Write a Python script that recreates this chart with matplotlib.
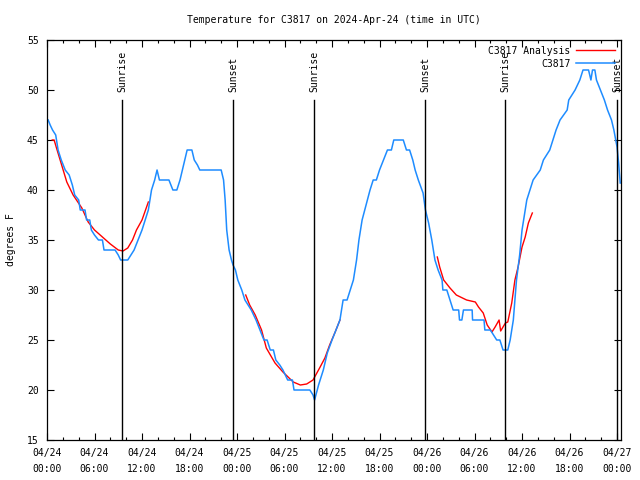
import numpy as np
import pandas as pd
import matplotlib
matplotlib.use('Agg')
import matplotlib.pyplot as plt
import matplotlib.dates as mdates

# Observed temperature (hours after 2024-04-24 00:00 UTC, deg F)
obs_hours = [0.15, 0.4, 0.7, 1.1, 1.4, 1.8, 2.3, 2.8, 3.2, 3.5, 4.0, 4.2, 4.8, 5.0, 5.4, 5.6,
             6.0, 6.5, 7.0, 7.2, 8.6, 9.0, 9.3, 10.2, 10.6, 11.0, 11.5, 12.0, 12.4, 12.8,
             13.2, 13.6, 13.9, 14.2, 15.4, 15.9, 16.4, 16.8, 17.1, 17.4, 17.7, 18.3, 18.6,
             19.0, 19.3, 22.0, 22.3, 22.5, 22.7, 23.0, 23.3, 23.5, 23.8, 24.1, 24.6, 25.0,
             25.4, 25.8, 26.4, 26.9, 27.4, 27.8, 28.2, 28.6, 28.9, 29.4, 29.8, 30.4, 31.0,
             31.2, 33.2, 33.6, 33.8, 34.3, 34.9, 35.4, 36.0, 36.5, 37.0, 37.4, 37.9, 38.3,
             38.7, 39.1, 39.4, 39.8, 40.3, 40.8, 41.2, 41.6, 42.0, 42.5, 43.0, 43.5, 43.8,
             45.0, 45.4, 45.8, 46.2, 46.5, 46.9, 47.5, 47.8, 48.2, 48.6, 49.0, 49.4, 49.9,
             50.0, 50.5, 50.9, 51.3, 52.0, 52.1, 52.4, 52.6, 53.7, 53.75, 55.2, 55.3, 56.0,
             56.4, 56.8, 57.2, 57.6, 58.2, 58.5, 58.9, 59.1, 59.3, 59.7, 60.0, 60.4, 60.6,
             61.0, 61.4, 62.3, 62.7, 63.5, 63.9, 64.3, 64.8, 65.7, 65.9, 66.7, 67.3, 67.7,
             68.4, 68.7, 68.9, 69.2, 69.4, 69.9, 70.4, 70.8, 71.3, 71.6, 72.0, 72.2, 72.4]
obs_temp = [47, 46.5, 46, 45.5, 44, 43, 42, 41.5, 40.5, 39.5, 39, 38, 38, 37, 37, 36,
            35.5, 35, 35, 34, 34, 33.5, 33, 33, 33.5, 34, 35, 36, 37, 38,
            40, 41, 42, 41, 41, 40, 40, 41, 42, 43, 44, 44, 43,
            42.5, 42, 42, 41, 39, 36, 34, 33, 32.5, 32, 31, 30, 29,
            28.5, 28, 27, 26, 25, 25, 24, 24, 23, 22.5, 22, 21, 21,
            20, 20, 19.5, 19, 20.5, 22, 23.7, 25, 26, 27, 29, 29, 30,
            31, 33, 35, 37, 38.5, 40, 41, 41, 42, 43, 44, 44, 45,
            45, 44, 44, 43, 42, 41, 39.7, 38, 36.7, 35, 33, 32, 31,
            30, 30, 29, 28, 28, 27, 27, 28, 28, 27, 27, 26, 26,
            25.5, 25, 25, 24, 24, 25, 27, 29, 31, 33.5, 36, 38, 39,
            40, 41, 42, 43, 44, 45, 46, 47, 48, 49, 50, 51, 52,
            52, 51, 52, 52, 51, 50, 49, 48, 47, 46, 44.3, 42.7, 40.7]

# Analysis (gaps as NaN)
ana_hours = [0.66, 0.9, 1.2, 1.85, 2.5, 3.3, 4.4, 5.2, 6.0, 7.0, 8.0, 9.0, 9.6, 10.2, 10.8,
             11.3, 12.0, 12.8, 13.0,
             25.1, 25.6, 26.3, 27.1, 27.7, 28.8, 29.8, 31.1, 32.0, 32.8, 33.6, 34.5, 35.1,
             35.7, 36.4, 37.0, 37.2,
             49.3, 49.6, 50.1, 50.9, 51.7, 53.0, 54.1, 54.5, 55.1, 55.6, 56.2, 56.6, 57.1,
             57.3, 57.9, 58.2, 58.7, 59.1, 59.5, 60.0, 60.4, 60.8, 61.3]
ana_temp = [45, 45, 44.2, 42.5, 40.8, 39.5, 38.2, 36.8, 36, 35.3, 34.6, 34, 33.9, 34.2, 35,
            36, 37, 38.8, np.nan,
            29.5, 28.5, 27.5, 26, 24.2, 22.7, 21.8, 20.8, 20.5, 20.6, 21, 22.3, 23.2,
            24.5, 25.8, 27, np.nan,
            33.3, 32.3, 31, 30.2, 29.5, 29, 28.8, 28.3, 27.7, 26.5, 25.8, 26.3, 27,
            25.9, 26.7, 26.8, 28.7, 31, 32.3, 34.3, 35.3, 36.7, 37.7]

sunrise_hours = [9.51, 33.76, 57.9]
sunset_hours = [23.53, 47.78, 72.02]

start = pd.Timestamp('2024-04-24 00:00')


def to_time(h):
    return start + pd.to_timedelta(np.asarray(h, dtype=float), unit='h')


plt.rcParams['font.family'] = 'DejaVu Sans Mono'
plt.rcParams['font.size'] = 7

fig = plt.figure(figsize=(6.4, 4.8), dpi=100)
ax = fig.add_axes([47 / 640, 40 / 480, 574 / 640, 400 / 480])

ax.plot(to_time(ana_hours), ana_temp, color='#ff0000', lw=1.0, label='C3817 Analysis')
ax.plot(to_time(obs_hours), obs_temp, color='#1e8cff', lw=1.1, label='C3817')

for h in sunrise_hours + sunset_hours:
    t = to_time([h])[0]
    ax.plot([t, t], [15, 49], color='black', lw=1.0)
for h, name in [(x, 'Sunrise') for x in sunrise_hours] + [(x, 'Sunset') for x in sunset_hours]:
    t = to_time([h])[0]
    ax.text(t, 49.8, name, rotation=90, ha='center', va='bottom', fontsize=7, clip_on=False)

ax.set_xlim(start, to_time([72.5])[0])
ax.set_ylim(15, 55)
ax.set_yticks(np.arange(15, 56, 5))
ax.xaxis.set_major_locator(mdates.HourLocator(byhour=[0, 6, 12, 18]))
ax.xaxis.set_minor_locator(mdates.HourLocator(byhour=range(0, 24, 2)))
ax.xaxis.set_major_formatter(mdates.DateFormatter('%m/%d\n%H:%M'))
ax.tick_params(which='both', direction='in', top=True, right=True, labelsize=7, width=0.8)
ax.tick_params(which='major', length=5, pad=6)
ax.tick_params(which='minor', length=2.5)
for s in ax.spines.values():
    s.set_linewidth(0.9)

ax.set_ylabel('degrees F', fontsize=7, labelpad=8)
ax.set_title('Temperature for C3817 on 2024-Apr-24 (time in UTC)', fontsize=7, pad=12)

leg = ax.legend(loc='upper right', frameon=False, markerfirst=False, fontsize=7,
                handlelength=4, borderaxespad=0.2, labelspacing=0.3, handletextpad=0.6)
for t in leg.get_texts():
    t.set_ha('right')

fig.canvas.draw()
for lbl in ax.get_xticklabels():
    lbl.set_linespacing(1.7)

fig.savefig('out.png', dpi=100)
